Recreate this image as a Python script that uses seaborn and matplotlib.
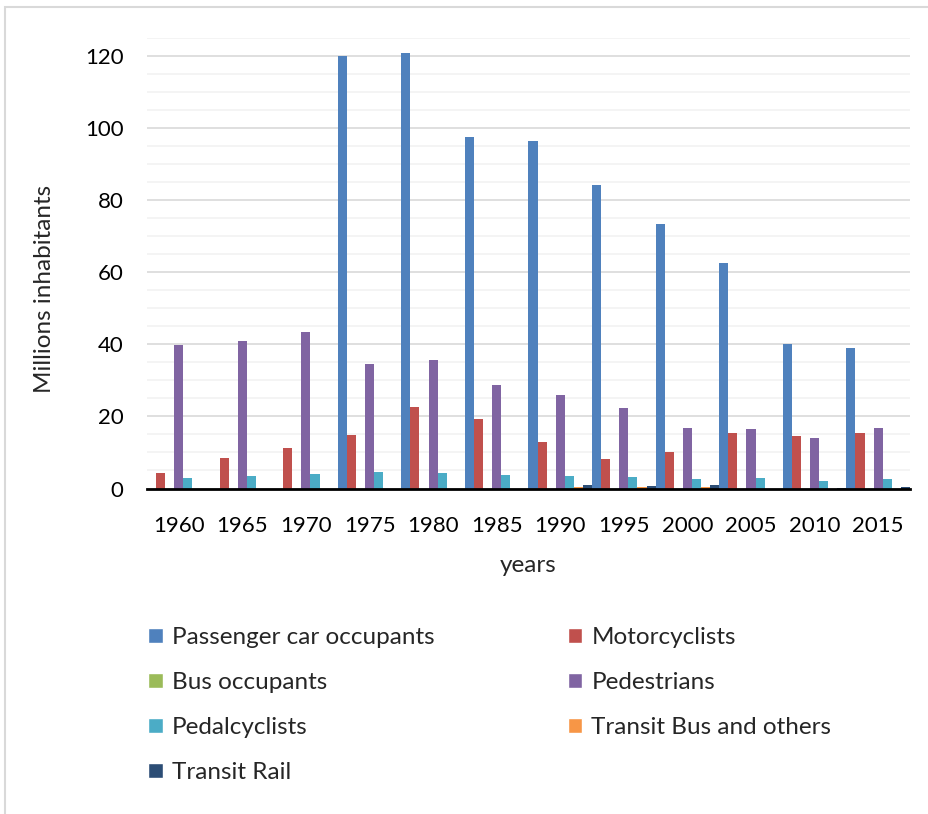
import pandas as pd
import seaborn as sns
import matplotlib.pyplot as plt
from matplotlib.patches import Patch, Rectangle
from matplotlib.ticker import MultipleLocator

years = ["1960", "1965", "1970", "1975", "1980", "1985",
         "1990", "1995", "2000", "2005", "2010", "2015"]

passenger_car = [0, 0, 0, 120.0, 120.9, 97.5, 96.3, 84.3, 73.3, 62.7, 40.2, 39.1]
motorcyclists = [4.3, 8.5, 11.1, 14.8, 22.6, 19.2, 13.0, 8.3, 10.2, 15.5, 14.6, 15.5]
bus_occupants = [0, 0, 0, 0, 0, 0, 0, 0, 0, 0, 0, 0]
pedestrians = [39.8, 41.0, 43.4, 34.6, 35.6, 28.6, 26.0, 22.4, 16.9, 16.5, 13.9, 16.8]
pedalcyclists = [2.8, 3.6, 3.9, 4.7, 4.3, 3.8, 3.5, 3.1, 2.5, 2.8, 2.1, 2.7]
transit_bus = [0, 0, 0, 0, 0, 0, 0.3, 0.3, 0.3, 0, 0, 0]
transit_rail = [0, 0, 0, 0, 0, 0, 0.9, 0.8, 0.9, 0, 0.2, 0.5]

series = ["Passenger car occupants", "Motorcyclists", "Bus occupants",
          "Pedestrians", "Pedalcyclists", "Transit Bus and others", "Transit Rail"]
values = [passenger_car, motorcyclists, bus_occupants, pedestrians,
          pedalcyclists, transit_bus, transit_rail]
colors = ["#4F81BD", "#C0504D", "#9BBB59", "#8064A2", "#4BACC6", "#F79646", "#2C4D75"]

rows = []
for name, vals in zip(series, values):
    for yr, v in zip(years, vals):
        rows.append({"year": yr, "series": name, "value": v})
df = pd.DataFrame(rows)

sns.set_style("white")
plt.rcParams['font.family'] = ['Lato', 'DejaVu Sans']

fig = plt.figure(figsize=(9.29, 8.14), dpi=100)
ax = fig.add_axes([147 / 929, 1 - 488.5 / 814, (910 - 147) / 929, (488.5 - 38) / 814])

sns.barplot(data=df, x="year", y="value", hue="series", order=years,
            hue_order=series, palette=colors, saturation=1, width=1.0, gap=0,
            linewidth=0, ax=ax, legend=False)

ax.set_ylim(0, 125)
ax.set_xlim(-0.5, 11.5)
ax.yaxis.set_major_locator(MultipleLocator(20))
ax.yaxis.set_minor_locator(MultipleLocator(5))
ax.grid(which="minor", axis="y", color="#F2F2F2", linewidth=1.2)
ax.grid(which="major", axis="y", color="#D9D9D9", linewidth=1.2)
ax.set_axisbelow(True)
for s in ["top", "right", "left"]:
    ax.spines[s].set_visible(False)
ax.spines["bottom"].set_color("black")
ax.spines["bottom"].set_linewidth(2)
ax.tick_params(axis="both", length=0, labelsize=16, colors="black")
ax.tick_params(axis="x", pad=20)
ax.tick_params(axis="y", pad=17)
ax.set_xlabel("years", fontsize=17.5, labelpad=13.5)
ax.set_ylabel("")
fig.text(45 / 929, 1 - 289 / 814, "Millions inhabitants", rotation=90,
         fontsize=17.5, ha="center", va="center")

# legend, reordered so that it reads row by row
order = [0, 2, 4, 6, 1, 3, 5]
handles = [Patch(facecolor=colors[i], label=series[i]) for i in order]
fig.legend(handles=handles, loc="upper left", bbox_to_anchor=(148 / 929, 1 - 627 / 814),
           ncol=2, frameon=False, fontsize=17.5, handlelength=0.6, handleheight=0.6,
           handletextpad=0.37, columnspacing=5.5, labelspacing=0.99,
           borderpad=0, borderaxespad=0)

# light chart frame
fig.patches.append(Rectangle((5.5 / 929, -0.1), 1.2, 1.1 - 7.5 / 814, fill=False,
                             edgecolor="#D9D9D9", linewidth=1.5,
                             transform=fig.transFigure, figure=fig))

fig.savefig("out.png", dpi=100)
